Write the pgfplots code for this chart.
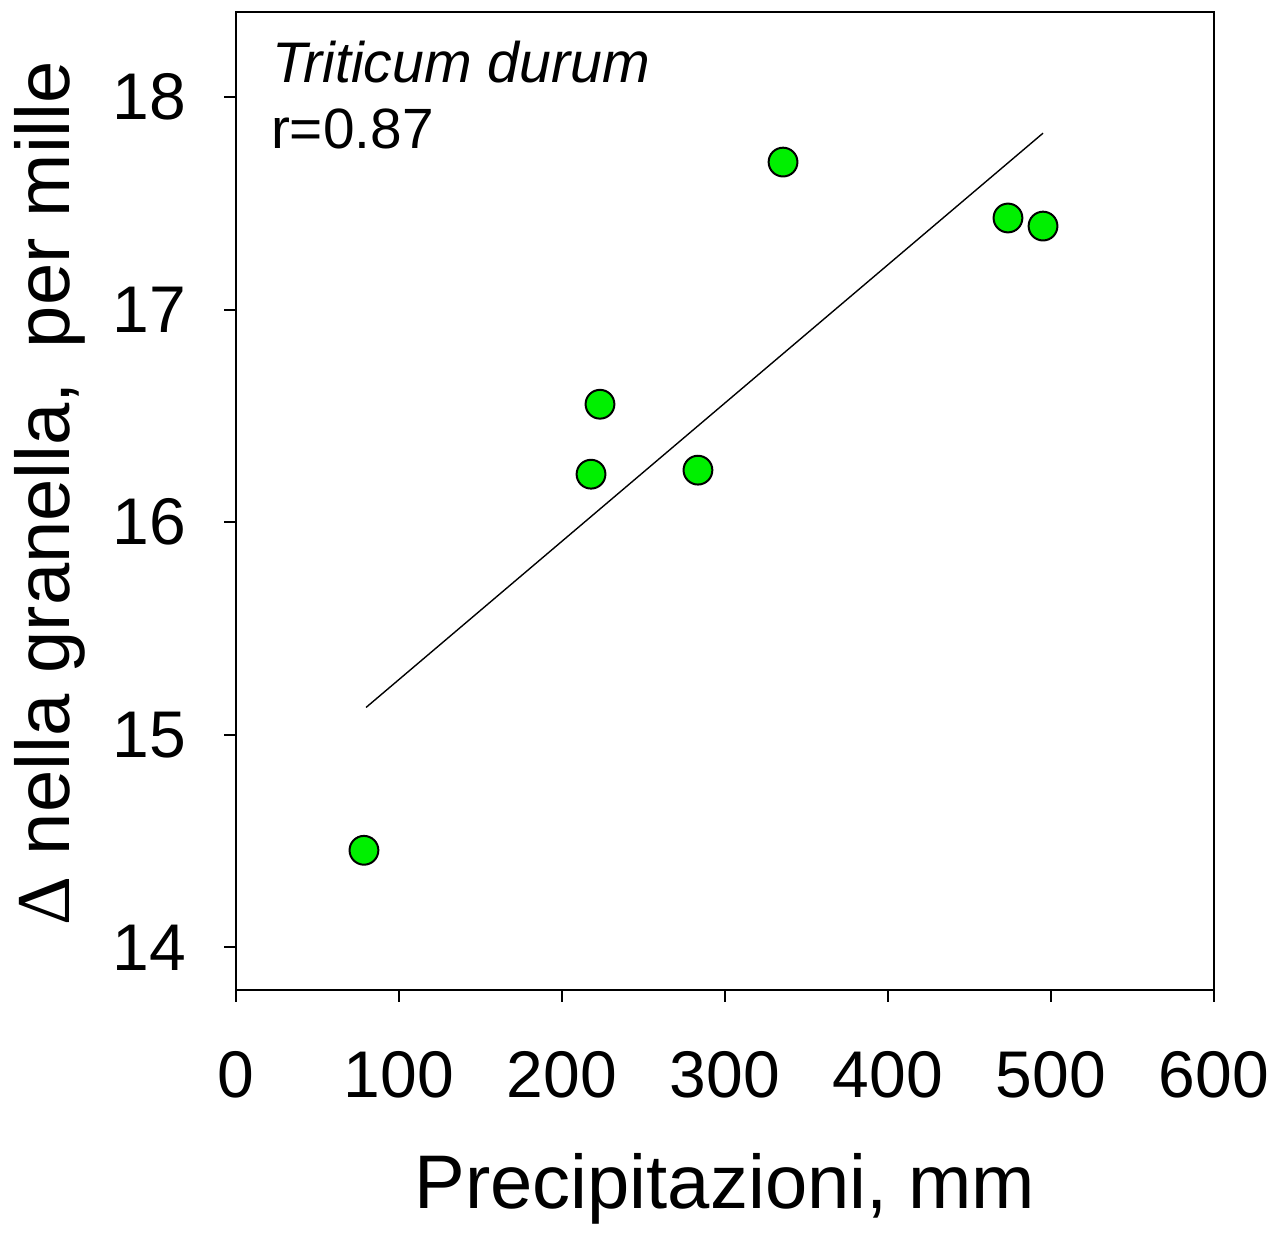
\documentclass[border=0pt]{standalone}
\usepackage{fontspec}
\setmainfont{Liberation Sans}
\newfontfamily\deltafont{Liberation Serif}
\usepackage{pgfplots}
\pgfplotsset{compat=1.18}
\begin{document}
\begin{tikzpicture}
\begin{axis}[
  scale only axis, width=244.5pt, height=244.5pt,
  xmin=0, xmax=600, ymin=13.8, ymax=18.4,
  xtick={0,100,200,300,400,500,600}, ytick={14,15,16,17,18},
  tick align=outside, tick pos=left, major tick length=3pt,
  axis line style={line width=0.5pt},
  every tick/.style={black, line width=0.5pt},
  tick label style={font=\fontsize{16.5}{18}\selectfont},
  /pgf/number format/assume math mode=true,
  xticklabel style={anchor=base, yshift=-24pt},
  yticklabel style={anchor=east, xshift=-6pt},
  xlabel={Precipitazioni, mm},
  ylabel={{\deltafont Δ} nella granella,\,\ per mille},
  label style={font=\fontsize{19}{22}\selectfont},
  xlabel style={at={([yshift=-54.5pt]axis description cs:0.5,0)}, anchor=base},
  ylabel style={at={([xshift=-41.5pt,yshift=2pt]axis description cs:0,0.5)}, anchor=base},
]
\addplot[black, line width=0.35pt] coordinates {(79.8,15.129) (495.1,17.83)};
\addplot[only marks, mark=*, mark size=3.6pt, mark options={fill={rgb,255:red,0;green,240;blue,0}, draw=black, line width=0.5pt}]
  coordinates {(78.5,14.457) (217.8,16.226) (223.3,16.555) (283.4,16.245) (335.6,17.694) (473.6,17.431) (495.1,17.393)};
\node[anchor=base west, inner sep=0, font=\fontsize{14.3}{16}\selectfont\itshape] at (axis cs:22,18.07) {Triticum durum};
\node[anchor=base west, inner sep=0, font=\fontsize{14.2}{16}\selectfont] at (axis cs:21,17.76) {r=0.87};
\end{axis}
\path ([xshift=-59pt,yshift=-59.5pt]current axis.south west) rectangle ([xshift=17.75pt,yshift=3pt]current axis.north east);
\end{tikzpicture}
\end{document}
